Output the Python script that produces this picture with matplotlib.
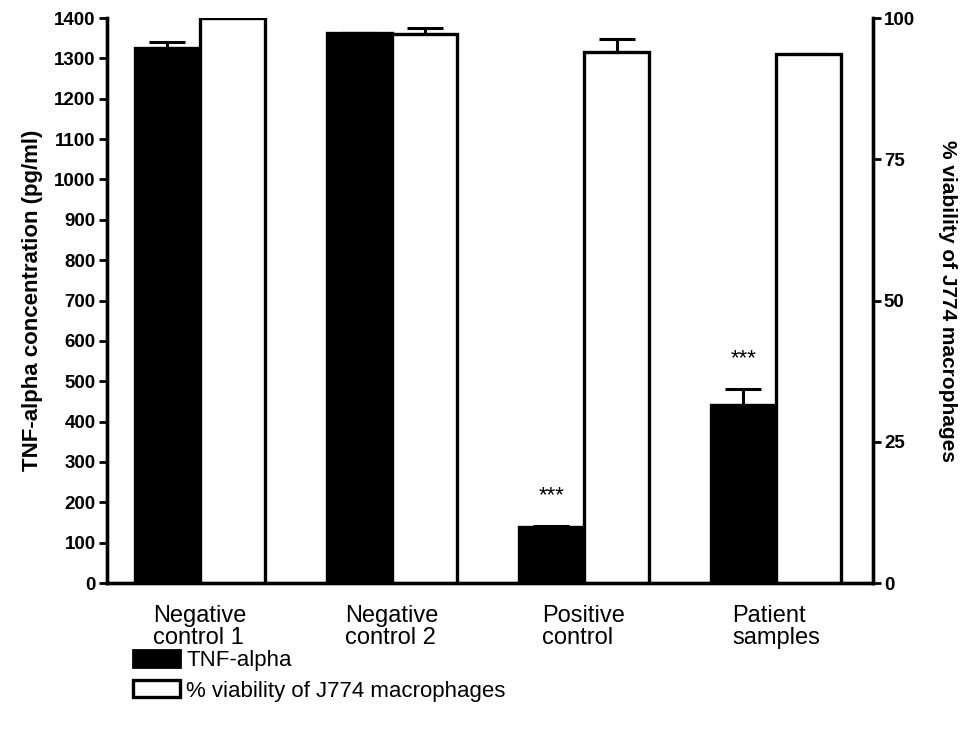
import numpy as np
import matplotlib.pyplot as plt
from matplotlib.patches import Patch

plt.rcParams['font.family'] = ['Liberation Sans', 'DejaVu Sans']

groups = ['Negative\ncontrol 1', 'Negative\ncontrol 2', 'Positive\ncontrol', 'Patient\nsamples']
tnf = [1325, 1362, 138, 442]
tnf_err = [15, 0, 3, 38]
viab = [100, 97.2, 94.0, 93.7]
viab_err = [0, 1.1, 2.3, 0]
stars = ['', '', '***', '***']

fig = plt.figure(figsize=(9.72, 7.33), dpi=100)
ax = fig.add_axes([0.110, 0.2046, 0.788, 0.7708])
ax2 = ax.twinx()

x = np.arange(len(groups))
w = 0.34
lw = 2.4

ax.bar(x - w / 2, tnf, w, color='black', edgecolor='black', linewidth=lw, zorder=2)
ax.errorbar(x - w / 2, tnf, yerr=[np.zeros(4), tnf_err], fmt='none', ecolor='black',
            elinewidth=2.2, capsize=13, capthick=2.2, zorder=1)
ax2.bar(x + w / 2, viab, w, color='white', edgecolor='black', linewidth=lw, zorder=2)
ax2.errorbar(x + w / 2, viab, yerr=[np.zeros(4), viab_err], fmt='none', ecolor='black',
             elinewidth=2.2, capsize=13, capthick=2.2, zorder=1)

for i, s in enumerate(stars):
    if s:
        ax.text(x[i] - w / 2, tnf[i] + tnf_err[i] + 75, s, ha='center', va='center', fontsize=16)

ax.set_xlim(-0.484, 3.505)
ax.set_ylim(0, 1400)
ax.set_yticks(np.arange(0, 1401, 100))
ax2.set_ylim(0, 100)
ax2.set_yticks([0, 25, 50, 75, 100])

ax.set_xticks(x)
ax.set_xticklabels(groups, fontsize=17, multialignment='left', linespacing=1.0)
ax.tick_params(axis='x', length=0, pad=16)
ax.tick_params(axis='y', width=2, length=6, labelsize=13.5, pad=2)
ax2.tick_params(axis='y', width=2, length=6, labelsize=13.5, pad=2)
for lab in ax.get_yticklabels() + ax2.get_yticklabels():
    lab.set_fontweight('bold')

ax.set_ylabel('TNF-alpha concentration (pg/ml)', fontsize=16, fontweight='bold', labelpad=8)
ax2.set_ylabel('% viability of J774 macrophages', fontsize=15, fontweight='bold',
               rotation=270, labelpad=30)

for a in (ax, ax2):
    a.spines['top'].set_visible(False)
    for sp in ('left', 'right', 'bottom'):
        a.spines[sp].set_linewidth(2.4)

handles = [Patch(facecolor='black', edgecolor='black', linewidth=2),
           Patch(facecolor='white', edgecolor='black', linewidth=2.4)]
fig.legend(handles, ['TNF-alpha', '% viability of J774 macrophages'],
           loc='upper left', bbox_to_anchor=(0.137, 0.113),
           frameon=False, fontsize=16, handlelength=2.1, handleheight=0.8,
           handletextpad=0.3, labelspacing=0.4, borderaxespad=0, borderpad=0)

fig.savefig('out.png', dpi=100)
